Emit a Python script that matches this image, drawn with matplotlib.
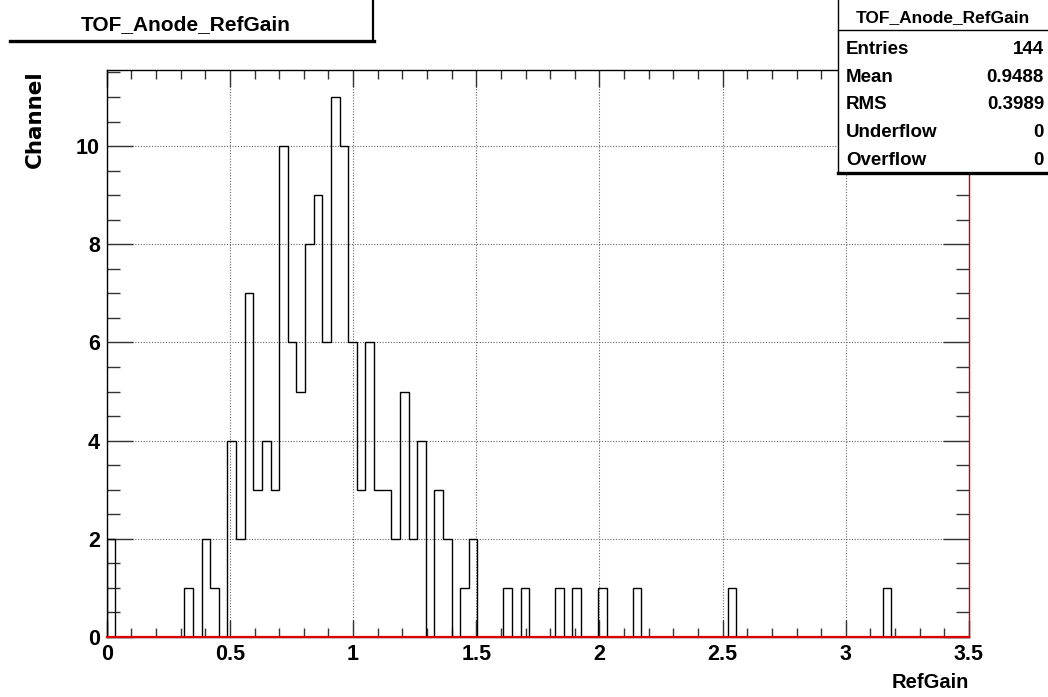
import numpy as np
import matplotlib
matplotlib.use("Agg")
import matplotlib.pyplot as plt
from matplotlib.lines import Line2D
from matplotlib.patches import Rectangle
from matplotlib.ticker import MultipleLocator, FuncFormatter

# Histogram definition: 100 bins over [0, 3.5]
hist_name = "TOF_Anode_RefGain"
x_title = "RefGain"
y_title = "Channel"
n_bins = 100
x_min, x_max = 0.0, 3.5

bin_counts = [
    2, 0, 0, 0, 0, 0, 0, 0, 0, 1,
    0, 2, 1, 0, 4, 2, 7, 3, 4, 3,
    10, 6, 5, 8, 9, 6, 11, 10, 6, 3,
    6, 3, 3, 2, 5, 2, 4, 0, 3, 2,
    0, 1, 2, 0, 0, 0, 1, 0, 1, 0,
    0, 0, 1, 0, 1, 0, 0, 1, 0, 0,
    0, 1, 0, 0, 0, 0, 0, 0, 0, 0,
    0, 0, 1, 0, 0, 0, 0, 0, 0, 0,
    0, 0, 0, 0, 0, 0, 0, 0, 0, 0,
    1, 0, 0, 0, 0, 0, 0, 0, 0, 0,
]

stat_labels = ["Entries", "Mean", "RMS", "Underflow", "Overflow"]
stat_values = ["144", "0.9488", "0.3989", "0", "0"]

plt.rcParams["font.family"] = ["Liberation Sans Narrow", "Liberation Sans", "DejaVu Sans"]
plt.rcParams["font.weight"] = "bold"

W, H = 1048, 697
fig = plt.figure(figsize=(W / 100, H / 100), dpi=100)

def fx(px):
    return px / W

def fy(py):
    return 1 - py / H

left, right, top, bottom = 106.7, 969, 70, 637
ax = fig.add_axes([fx(left), fy(bottom), fx(right) - fx(left), fy(top) - fy(bottom)])

edges = np.linspace(x_min, x_max, n_bins + 1)
counts = np.array(bin_counts, dtype=float)
ax.stairs(counts, edges, baseline=0, color="black", lw=1.0, zorder=3)

ax.set_xlim(x_min, x_max)
ax.set_ylim(0, counts.max() * 1.05)

ax.xaxis.set_major_locator(MultipleLocator(0.5))
ax.xaxis.set_minor_locator(MultipleLocator(0.1))
ax.yaxis.set_major_locator(MultipleLocator(2))
ax.yaxis.set_minor_locator(MultipleLocator(0.5))
ax.xaxis.set_major_formatter(FuncFormatter(lambda v, p: f"{v:g}"))
ax.yaxis.set_major_formatter(FuncFormatter(lambda v, p: f"{v:g}"))

ax.tick_params(axis="both", which="both", direction="in", top=True, right=True,
               color="#333333", width=1.0)
ax.tick_params(axis="x", which="major", length=12.2, pad=5, labelsize=15.5)
ax.tick_params(axis="x", which="minor", length=6.5)
ax.tick_params(axis="y", which="major", length=18.7, pad=5, labelsize=15.5)
ax.tick_params(axis="y", which="minor", length=9.4)
for lab in ax.get_xticklabels() + ax.get_yticklabels():
    lab.set_fontweight("bold")

ax.grid(True, which="major", linestyle=(0, (1, 1.5)), color="#666666", lw=0.8)

for s in ax.spines.values():
    s.set_linewidth(1.0)
    s.set_color("black")
ax.spines["right"].set_color("#cc0000")
ax.axhline(0, color="#dd0000", lw=1.6, zorder=4, clip_on=False)

# Axis titles
fig.text(fx(35), fy(70), y_title, rotation=90, ha="center", va="top",
         fontsize=15.5, fontweight="bold", family=["DejaVu Sans"])
fig.text(fx(969), fy(683), x_title, ha="right", va="center",
         fontsize=14.5, fontweight="bold")

# Title pave (top-left)
fig.add_artist(Rectangle((fx(10), fy(41)), fx(372) - fx(10), fy(-5) - fy(41),
                         transform=fig.transFigure, facecolor="white",
                         edgecolor="none", zorder=5))
fig.add_artist(Line2D([fx(10), fx(374)], [fy(41), fy(41)], transform=fig.transFigure,
                      color="black", lw=2.4, zorder=6))
fig.add_artist(Line2D([fx(372.5), fx(372.5)], [fy(0), fy(41)], transform=fig.transFigure,
                      color="black", lw=1.6, zorder=6))
fig.text(fx(186), fy(30), hist_name, ha="center", va="baseline",
         fontsize=15, fontweight="bold", zorder=7)

# Statistics box (top-right)
fig.add_artist(Rectangle((fx(838), fy(173)), fx(W + 5) - fx(838), fy(-5) - fy(173),
                         transform=fig.transFigure, facecolor="white",
                         edgecolor="none", zorder=5))
fig.add_artist(Line2D([fx(838), fx(838)], [fy(0), fy(173)], transform=fig.transFigure,
                      color="black", lw=1.0, zorder=6))
fig.add_artist(Line2D([fx(838), fx(W)], [fy(173), fy(173)], transform=fig.transFigure,
                      color="black", lw=2.4, zorder=6))
fig.add_artist(Line2D([fx(838), fx(W)], [fy(30), fy(30)], transform=fig.transFigure,
                      color="black", lw=1.0, zorder=6))
fig.text(fx(943), fy(22), hist_name, ha="center", va="baseline",
         fontsize=12.5, fontweight="bold", zorder=7)
row_baselines = [54, 82, 109, 137, 165]
for lab, val, yy in zip(stat_labels, stat_values, row_baselines):
    fig.text(fx(846), fy(yy), lab, ha="left", va="baseline",
             fontsize=13.5, fontweight="bold", zorder=7)
    fig.text(fx(1044), fy(yy), val, ha="right", va="baseline",
             fontsize=13.5, fontweight="bold", zorder=7)

fig.savefig("out.png", dpi=100, facecolor="white")
